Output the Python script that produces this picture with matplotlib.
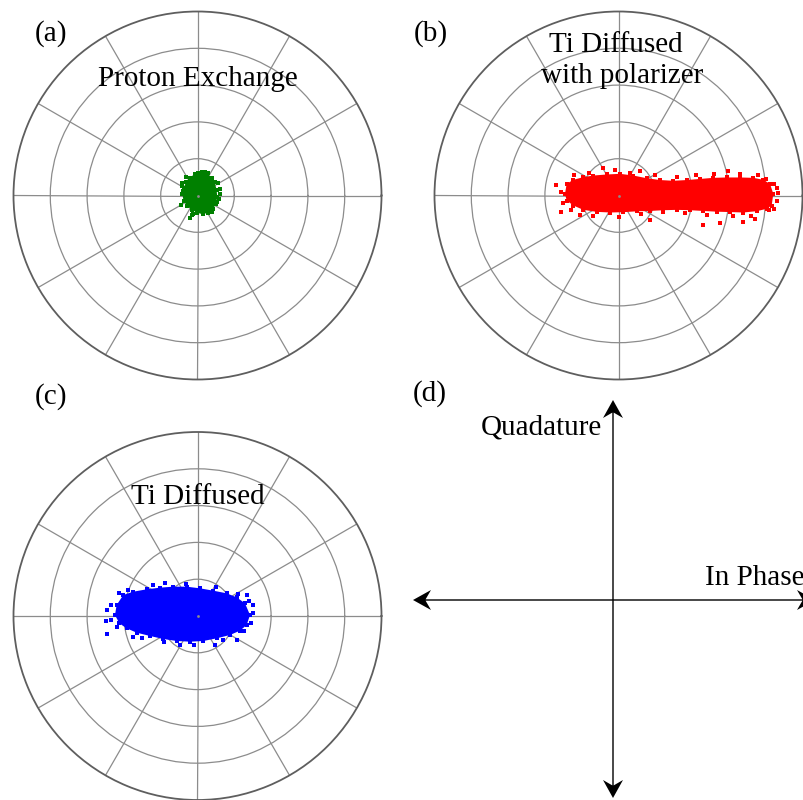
import matplotlib
matplotlib.use("Agg")
import matplotlib.pyplot as plt
import numpy as np

plt.rcParams["font.family"] = ["Liberation Serif", "DejaVu Serif"]

# Constellation clouds, in ring units (grid rings at 1..5).
# Each cloud: outline of the dense core + isolated stray samples.
pe_edge_x = [0.118, 0.268, 0.388, 0.467, 0.518, 0.537, 0.497, 0.418, 0.288, 0.138,
             -0.012, -0.150, -0.280, -0.380, -0.410, -0.380, -0.310, -0.211, -0.081]
pe_edge_y = [0.627, 0.587, 0.487, 0.358, 0.158, -0.041, -0.240, -0.370, -0.469, -0.509,
             -0.469, -0.390, -0.290, -0.140, 0.029, 0.209, 0.358, 0.487, 0.577]
pe_dots_x = [-0.430, -0.403, 0.611, 0.521, -0.158, -0.204, -0.113, 0.294, 0.023,
             0.55, 0.58, -0.45, -0.30, 0.40, 0.20, -0.42, 0.62]
pe_dots_y = [0.267, 0.122, 0.177, -0.168, -0.530, -0.620, -0.512, 0.602, 0.602,
             0.35, -0.10, -0.25, 0.50, -0.45, 0.65, 0.35, 0.05]

tip_edge_x = [-1.454, -1.408, -1.227, -0.956, -0.684, -0.322, 0.041, 0.403, 0.765, 1.128,
              1.490, 1.852, 2.215, 2.577, 2.939, 3.302, 3.664, 3.936, 4.117, 4.207,
              4.162, 4.026, 3.755, 3.392, 3.030, 2.668, 2.305, 1.943, 1.581, 1.218,
              0.856, 0.494, 0.131, -0.231, -0.593, -0.956, -1.227, -1.408]
tip_edge_y = [0.045, 0.317, 0.426, 0.498, 0.543, 0.571, 0.589, 0.543, 0.470, 0.420,
              0.400, 0.420, 0.450, 0.480, 0.490, 0.490, 0.480, 0.426, 0.317, 0.045,
              -0.272, -0.362, -0.426, -0.462, -0.450, -0.440, -0.420, -0.400, -0.390, -0.400,
              -0.420, -0.430, -0.453, -0.462, -0.444, -0.390, -0.272, -0.136]
tip_dots_x = [-1.698, -1.572, -0.412, 2.305, 2.967, 2.758, 3.392, 3.709, 4.343, 4.226,
              4.226, 0.856, -1.046, 0.584,
              -1.20, -0.80, -0.10, 0.30, 1.00, 1.60, 2.10, 2.60, 3.30, 3.80, 4.00,
              -1.30, -0.70, 0.00, 0.60, 1.20, 1.80, 2.40, 3.10, 3.60, 4.10, 4.30, 4.30,
              -1.55, -1.50]
tip_dots_y = [0.272, -0.435, 0.752, -0.815, 0.679, -0.743, -0.716, -0.652, 0.063, 0.317,
              -0.362, -0.679, -0.543, 0.679,
              0.55, 0.62, 0.68, 0.62, 0.55, 0.50, 0.55, 0.58, 0.58, 0.55, 0.45,
              -0.40, -0.55, -0.58, -0.50, -0.45, -0.47, -0.52, -0.56, -0.55, -0.40, -0.15, 0.20,
              0.10, -0.20]

ti_edge_x = [-2.242, -2.197, -2.015, -1.744, -1.381, -1.019, -0.657, -0.294, 0.068, 0.430,
             0.793, 1.064, 1.291, 1.427, 1.336, 1.155, 0.883, 0.521, 0.158, -0.204,
             -0.566, -0.928, -1.291, -1.653, -1.925, -2.124]
ti_edge_y = [0.027, 0.299, 0.571, 0.661, 0.725, 0.770, 0.797, 0.797, 0.752, 0.688,
             0.616, 0.507, 0.344, 0.027, -0.245, -0.399, -0.516, -0.607, -0.679, -0.698,
             -0.679, -0.625, -0.543, -0.453, -0.335, -0.199]
ti_dots_x = [-2.468, -2.486, -2.450, -0.883, 1.336, 1.517, 1.499, 1.064, 0.476, -1.744,
             -2.124, -0.476,
             -1.90, -1.20, -0.30, 0.50, 1.10, 1.40,
             -2.20, -1.50, -0.90, -0.10, 0.70, 1.25, 1.45, -2.35, -2.35]
ti_dots_y = [0.163, -0.127, -0.489, 0.906, 0.571, 0.072, 0.299, -0.652, -0.788, -0.562,
             0.616, -0.788,
             0.70, 0.85, 0.88, 0.80, 0.60, 0.42,
             -0.30, -0.60, -0.72, -0.80, -0.66, -0.40, -0.20, 0.30, -0.10]

W, H = 804, 800
R = 184  # polar plot radius in pixels


def rect(cx, cy):
    return [(cx - R) / W, (H - cy - R) / H, 2 * R / W, 2 * R / H]


fig = plt.figure(figsize=(W / 100, H / 100), dpi=100)


def polar_panel(cx, cy):
    box = rect(cx, cy)
    ax = fig.add_axes(box, projection="polar")
    ax.set_ylim(0, 5)
    ax.set_yticks([1, 2, 3, 4])
    ax.set_xticks(np.deg2rad(np.arange(0, 360, 30)))
    ax.set_xticklabels([])
    ax.set_yticklabels([])
    ax.tick_params(length=0)
    ax.grid(True, color="#8c8c8c", lw=0.9)
    ax.spines["polar"].set_color("#5e5e5e")
    ax.spines["polar"].set_linewidth(1.3)
    # cartesian overlay for the I/Q samples
    iq = fig.add_axes(box)
    iq.set_xlim(-5, 5)
    iq.set_ylim(-5, 5)
    iq.set_aspect("equal")
    iq.axis("off")
    return iq


def cloud(ax, ex, ey, dx, dy, color):
    ax.fill(ex, ey, color=color, lw=0)
    ax.scatter(ex, ey, s=5, marker="s", color=color, lw=0)
    ax.scatter(dx, dy, s=5, marker="s", color=color, lw=0)
    ax.plot(0, 0, "o", ms=2, color="#8c8c8c", mew=0)


ax_a = polar_panel(197.5, 195.5)
cloud(ax_a, pe_edge_x, pe_edge_y, pe_dots_x, pe_dots_y, "#008000")
ax_b = polar_panel(618.5, 195.5)
cloud(ax_b, tip_edge_x, tip_edge_y, tip_dots_x, tip_dots_y, "#ff0000")
ax_c = polar_panel(197.5, 616)
cloud(ax_c, ti_edge_x, ti_edge_y, ti_dots_x, ti_dots_y, "#0000ff")

# (d) I/Q axes sketch, drawn in pixel units
axd = fig.add_axes([410 / W, 0, 394 / W, 400 / H])
axd.set_xlim(410, 804)
axd.set_ylim(800, 400)
axd.axis("off")
ox, oy = 613, 600
head = dict(width=1.4, head_width=20, head_length=18, overhang=0.3,
            length_includes_head=True, fc="black", ec="black", lw=0)
axd.arrow(ox, oy, 413 - ox, 0, **head)
axd.arrow(ox, oy, 815 - ox, 0, **head)
axd.arrow(ox, oy, 0, 400 - oy, **head)
axd.arrow(ox, oy, 0, 798 - oy, **head)

fs = 21


def label(x, y, s, ha="left"):
    fig.text(x / W, 1 - y / H, s, fontsize=fs, ha=ha, va="baseline")


label(35, 41, "(a)")
label(414, 41, "(b)")
label(35, 404, "(c)")
label(413, 401, "(d)")
label(197.5, 86, "Proton Exchange", ha="center")
label(616, 52, "Ti Diffused", ha="center")
label(622, 83, "with polarizer", ha="center")
label(198, 504, "Ti Diffused", ha="center")
label(602, 435, "Quadature", ha="right")
label(705, 585, "In Phase")

fig.savefig("out.png", dpi=100)
